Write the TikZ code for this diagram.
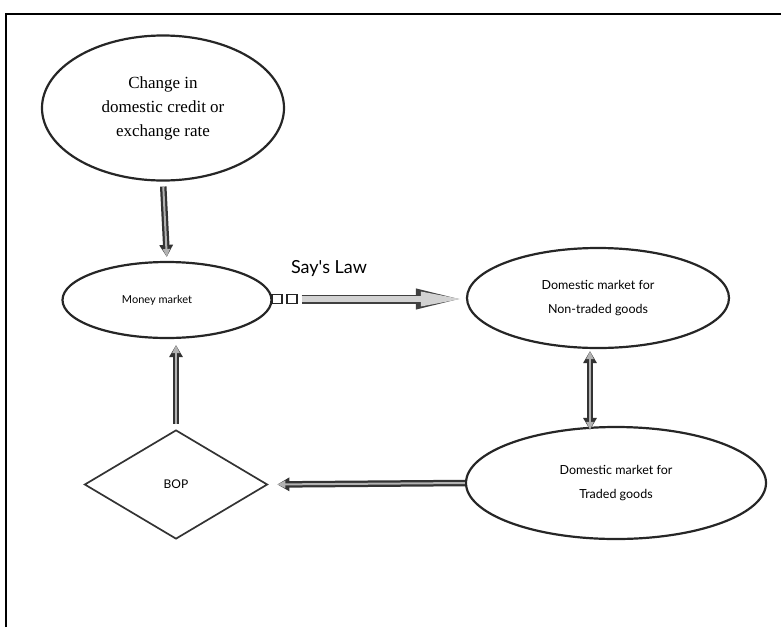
\documentclass[tikz,border=0pt]{standalone}
\usepackage{fontspec}
\setmainfont{Liberation Serif}
\newfontfamily\gill{Lato}
\usetikzlibrary{shapes.geometric,arrows.meta}
\begin{document}
\begin{tikzpicture}[x=1pt,y=-1pt,
  oval/.style={ellipse, draw=black!85, line width=2.2pt, inner sep=0pt},
  dia/.style={diamond, draw=black!80, line width=1.7pt, inner sep=0pt},
  sq/.style={draw=black!85, line width=1.3pt, minimum width=10pt, minimum height=9pt, inner sep=0pt},
  darrow/.style={line width=2pt, gray!60, -{Triangle[length=8pt,width=7pt]},
     preaction={draw=black!80, line width=6.5pt, -{Triangle[length=12pt,width=13pt]}}},
  ddarrow/.style={line width=2pt, gray!60, {Triangle[length=8pt,width=7pt]}-{Triangle[length=8pt,width=7pt]},
     preaction={draw=black!80, line width=6.5pt, {Triangle[length=12pt,width=13pt]}-{Triangle[length=12pt,width=13pt]}}},
  sayarrow/.style={line width=6pt, gray!35, -{Triangle[length=44pt,width=13pt]},
     preaction={draw=black!75, line width=9pt, -{Triangle[length=49pt,width=18pt]}}},
  stxt/.style={font=\gill\fontsize{12.5}{24}\selectfont, align=center}
]
\useasboundingbox (0,0) rectangle (781,627);
\draw[line width=1.6pt] (6,627) -- (6,14) -- (781,14);

\node[oval, minimum width=242pt, minimum height=145pt,
      font=\fontsize{17}{24}\selectfont, align=center] (chg) at (163,108)
      {Change in\\domestic credit or\\exchange rate};
\node[oval, minimum width=209pt, minimum height=76pt,
      font=\gill\fontsize{11}{13}\selectfont] (mm) at (167,300) {\hspace*{-20pt}Money market};
\node[oval, minimum width=262pt, minimum height=100pt, stxt] (nt) at (598,298)
      {Domestic market for\\Non-traded goods};
\node[oval, minimum width=300pt, minimum height=112pt, stxt] (tr) at (616,483)
      {Domestic market for\\Traded goods};
\node[dia, minimum width=183pt, minimum height=109pt,
      font=\gill\fontsize{12}{14}\selectfont] (bop) at (176,484.5) {BOP};

\node[sq] (s1) at (277,299) {};
\node[sq] (s2) at (292,299) {};
\node[font=\gill\fontsize{18}{22}\selectfont] (say) at (329,269) {Say's Law};

\draw[darrow, shorten <=5pt, shorten >=4pt] (chg.south) -- (mm.north);
\draw[darrow, shorten <=5pt, shorten >=6pt] (bop.north) -- (bop.north |- mm.south);
\draw[sayarrow, shorten <=4pt, shorten >=1pt] (s2.east) -- (nt.west |- s2.east);
\draw[ddarrow, shorten <=2pt, shorten >=-4pt] ([xshift=-8pt]nt.south) -- ([xshift=-8pt]nt.south |- tr.north);
\draw[darrow, shorten >=9pt] (tr.west) -- (bop.east);
\end{tikzpicture}
\end{document}
